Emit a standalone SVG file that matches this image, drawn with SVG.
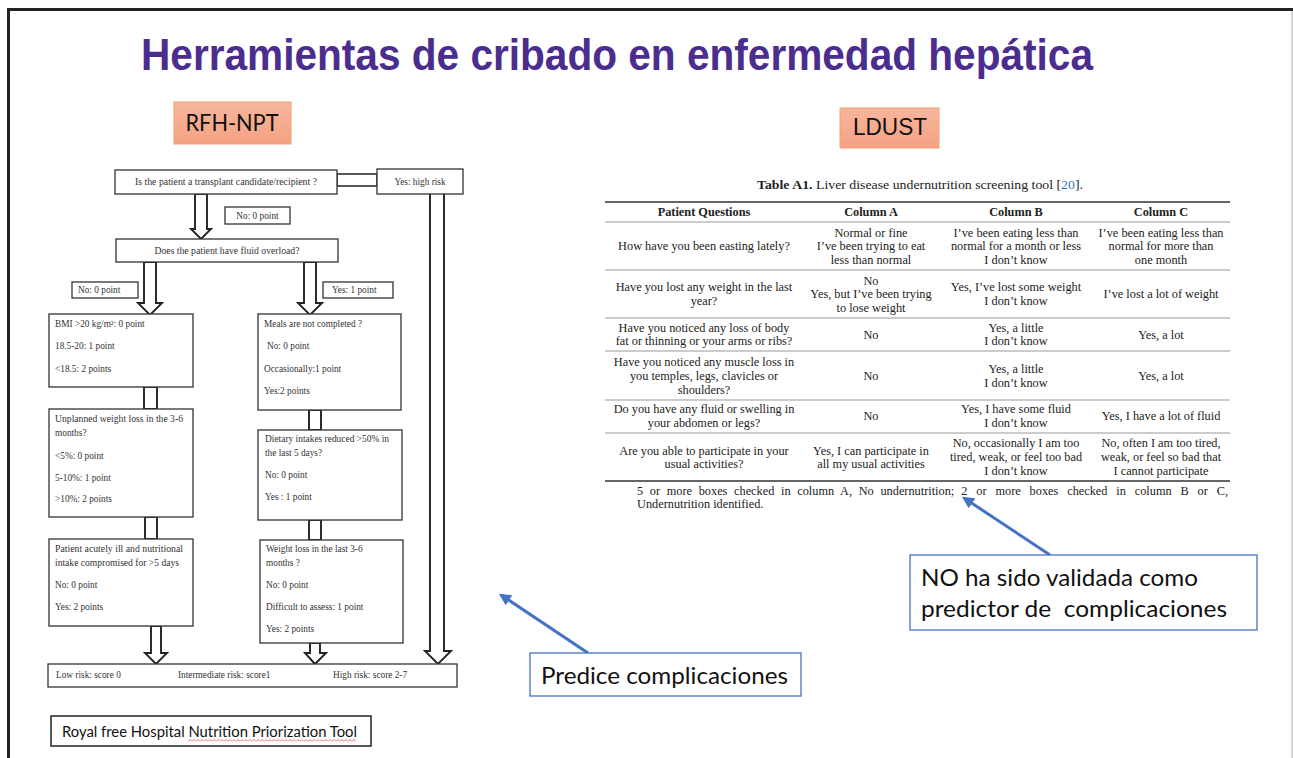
<svg xmlns="http://www.w3.org/2000/svg" width="1293" height="758" viewBox="0 0 1293 758">
<defs>
<linearGradient id="sal" x1="0" y1="0" x2="0" y2="1">
<stop offset="0" stop-color="#F7B69C"/>
<stop offset="1" stop-color="#F4A283"/>
</linearGradient>
<pattern id="wavy" x="188" y="739" width="4" height="3" patternUnits="userSpaceOnUse">
<path d="M0,2.5 L2,0.5 L4,2.5" fill="none" stroke="#E03030" stroke-width="0.7"/>
</pattern>
<marker id="bh" viewBox="0 0 10 10" refX="8" refY="5" markerWidth="4" markerHeight="4" orient="auto" markerUnits="strokeWidth">
<path d="M0,0 L10,5 L0,10 z" fill="#4472C4"/>
</marker>
<style>
.fc{font-family:"Liberation Serif",serif;font-size:9.3px;fill:#333}
.box{fill:#fff;stroke:#333;stroke-width:1.3}
.arr{fill:#fff;stroke:#222;stroke-width:1.9;stroke-linejoin:miter}
.tb{font-family:"Liberation Serif",serif;font-size:12.3px;fill:#222;text-anchor:middle}
.tl{font-family:"Liberation Serif",serif;font-size:12.3px;fill:#222}
.th{font-weight:bold}
.rt{stroke:#333;stroke-width:1.5}
.rl{stroke:#999;stroke-width:1}
.call{fill:#fff;stroke:#4472C4;stroke-width:1.3}
.ct{font-family:Lato,"Open Sans",sans-serif;fill:#111}
.blue{stroke:#4472C4;stroke-width:3;fill:none;marker-end:url(#bh)}
.tag{fill:url(#sal);stroke:#F2A070;stroke-width:1}
</style>
</defs>
<rect x="0" y="0" width="1293" height="758" fill="#fff"/>
<!-- frame -->
<path d="M8.5,758 V9.5 H1293" fill="none" stroke="#222" stroke-width="3"/>
<line x1="1292" y1="11" x2="1292" y2="758" stroke="#bbb" stroke-width="1.2"/>

<!-- title -->
<text x="141" y="70" font-family="Liberation Sans,Arial,sans-serif" font-weight="bold" font-size="45" fill="#4B2D8E" textLength="952" lengthAdjust="spacingAndGlyphs">Herramientas de cribado en enfermedad hepática</text>

<!-- tags -->
<g id="tag-rfh">
<rect class="tag" x="174" y="102" width="117" height="42"/>
<text x="232" y="131" font-family="Lato,'Open Sans',sans-serif" font-size="23" fill="#111" text-anchor="middle" textLength="93" lengthAdjust="spacingAndGlyphs">RFH-NPT</text>
</g>
<g id="tag-ldust">
<rect class="tag" x="840" y="108" width="99" height="40"/>
<text x="890" y="135" font-family="Liberation Sans,Arial,sans-serif" font-size="24" fill="#111" text-anchor="middle" textLength="74" lengthAdjust="spacingAndGlyphs">LDUST</text>
</g>

<!-- flowchart connectors -->
<g id="connectors">
<rect x="337" y="174" width="40" height="12" fill="#fff" stroke="#222" stroke-width="1.5"/>
<path class="arr" d="M195,194 V229 H191 L201,239 L211,229 H207 V194 Z"/>
<path class="arr" d="M144,262 V303 H138 L150,315 L162,303 H156 V262 Z"/>
<path class="arr" d="M304,262 V303 H298 L310,315 L322,303 H316 V262 Z"/>
<rect class="arr" x="144" y="387" width="13" height="22"/>
<rect class="arr" x="309" y="410" width="12" height="20"/>
<rect class="arr" x="145" y="517" width="12" height="22"/>
<rect class="arr" x="309" y="520" width="12" height="20"/>
<path class="arr" d="M151,626 V653 H145 L156,664 L167,653 H161 V626 Z"/>
<path class="arr" d="M310,643 V653 H305 L315,664 L326,653 H320 V643 Z"/>
<path class="arr" d="M430,194 V651 H425 L438,664 L451,651 H444 V194"/>
</g>

<!-- flowchart nodes -->
<g id="n-transplant">
<rect class="box" x="115" y="170" width="222" height="24"/>
<text class="fc" x="226" y="185" text-anchor="middle" textLength="182" lengthAdjust="spacingAndGlyphs">Is the patient a transplant candidate/recipient ?</text>
</g>
<g id="n-yeshigh">
<rect class="box" x="377" y="169" width="86" height="25"/>
<text class="fc" x="420" y="185" text-anchor="middle">Yes: high risk</text>
</g>
<g id="n-no0a">
<rect class="box" x="225" y="207" width="65" height="17"/>
<text class="fc" x="257.5" y="218.5" text-anchor="middle">No: 0 point</text>
</g>
<g id="n-fluid">
<rect class="box" x="116" y="239" width="222" height="23"/>
<text class="fc" x="227" y="254" text-anchor="middle" textLength="145" lengthAdjust="spacingAndGlyphs">Does the patient have fluid overload?</text>
</g>
<g id="n-no0b">
<rect class="box" x="72" y="282" width="66" height="16"/>
<text class="fc" x="78" y="293">No: 0 point</text>
</g>
<g id="n-yes1">
<rect class="box" x="323" y="282" width="70" height="16"/>
<text class="fc" x="332" y="293">Yes: 1 point</text>
</g>
<g id="n-bmi">
<rect class="box" x="49" y="314" width="144" height="73"/>
<text class="fc" x="55" y="327">BMI &gt;20 kg/m²: 0 point</text>
<text class="fc" x="55" y="349">18.5-20: 1 point</text>
<text class="fc" x="55" y="372">&lt;18.5: 2 points</text>
</g>
<g id="n-meals">
<rect class="box" x="258" y="314" width="143" height="96"/>
<text class="fc" x="264" y="327">Meals are not completed ?</text>
<text class="fc" x="267" y="349">No: 0 point</text>
<text class="fc" x="264" y="372">Occasionally:1 point</text>
<text class="fc" x="264" y="394">Yes:2 points</text>
</g>
<g id="n-unplanned">
<rect class="box" x="49" y="409" width="144" height="108"/>
<text class="fc" x="55" y="422" textLength="128" lengthAdjust="spacingAndGlyphs">Unplanned weight loss in the 3-6</text>
<text class="fc" x="55" y="436">months?</text>
<text class="fc" x="55" y="459">&lt;5%: 0 point</text>
<text class="fc" x="55" y="481">5-10%: 1 point</text>
<text class="fc" x="55" y="502">&gt;10%: 2 points</text>
</g>
<g id="n-dietary">
<rect class="box" x="258" y="430" width="144" height="90"/>
<text class="fc" x="265" y="442" textLength="124" lengthAdjust="spacingAndGlyphs">Dietary intakes reduced &gt;50% in</text>
<text class="fc" x="265" y="456">the last 5 days?</text>
<text class="fc" x="265" y="478">No: 0 point</text>
<text class="fc" x="265" y="500">Yes : 1 point</text>
</g>
<g id="n-acute">
<rect class="box" x="49" y="539" width="144" height="87"/>
<text class="fc" x="55" y="552" textLength="128" lengthAdjust="spacingAndGlyphs">Patient acutely ill and nutritional</text>
<text class="fc" x="55" y="566" textLength="124" lengthAdjust="spacingAndGlyphs">intake compromised for &gt;5 days</text>
<text class="fc" x="55" y="588">No: 0 point</text>
<text class="fc" x="55" y="610">Yes: 2 points</text>
</g>
<g id="n-weight">
<rect class="box" x="260" y="540" width="143" height="103"/>
<text class="fc" x="266" y="552">Weight loss in the last 3-6</text>
<text class="fc" x="266" y="566">months ?</text>
<text class="fc" x="266" y="588">No: 0 point</text>
<text class="fc" x="266" y="610">Difficult to assess: 1 point</text>
<text class="fc" x="266" y="632">Yes: 2 points</text>
</g>
<g id="n-result">
<rect class="box" x="48" y="664" width="409" height="23"/>
<text class="fc" x="56" y="677.5">Low risk: score 0</text>
<text class="fc" x="178" y="677.5">Intermediate risk: score1</text>
<text class="fc" x="333" y="677.5">High risk: score 2-7</text>
</g>
<g id="n-royal">
<rect x="51" y="716" width="320" height="30" fill="#fff" stroke="#222" stroke-width="1.5"/>
<text class="ct" x="62" y="737" font-size="15.5" textLength="295" lengthAdjust="spacingAndGlyphs">Royal free Hospital Nutrition Priorization Tool</text>
<rect x="188" y="739" width="168" height="3" fill="url(#wavy)"/>
</g>

<!-- table -->
<g id="table-ldust">
<text class="tb" x="920" y="189" font-size="13.5" textLength="326" lengthAdjust="spacingAndGlyphs"><tspan class="th">Table A1.</tspan> Liver disease undernutrition screening tool [<tspan fill="#2E75C6">20</tspan>].</text>
<line class="rt" x1="605" y1="202" x2="1230" y2="202"/>
<line class="rl" x1="605" y1="222" x2="1230" y2="222"/>
<line class="rl" x1="605" y1="270" x2="1230" y2="270"/>
<line class="rl" x1="605" y1="318" x2="1230" y2="318"/>
<line class="rl" x1="605" y1="351" x2="1230" y2="351"/>
<line class="rl" x1="605" y1="400" x2="1230" y2="400"/>
<line class="rl" x1="605" y1="433" x2="1230" y2="433"/>
<line class="rt" x1="605" y1="481" x2="1230" y2="481"/>

<text class="tb th" x="704" y="216">Patient Questions</text>
<text class="tb th" x="871" y="216">Column A</text>
<text class="tb th" x="1016" y="216">Column B</text>
<text class="tb th" x="1161" y="216">Column C</text>

<text class="tb" x="704" y="250">How have you been easting lately?</text>
<text class="tb" x="871" y="237">Normal or fine</text>
<text class="tb" x="871" y="250">I’ve been trying to eat</text>
<text class="tb" x="871" y="264">less than normal</text>
<text class="tb" x="1016" y="237">I’ve been eating less than</text>
<text class="tb" x="1016" y="250">normal for a month or less</text>
<text class="tb" x="1016" y="264">I don’t know</text>
<text class="tb" x="1161" y="237">I’ve been eating less than</text>
<text class="tb" x="1161" y="250">normal for more than</text>
<text class="tb" x="1161" y="264">one month</text>

<text class="tb" x="704" y="291">Have you lost any weight in the last</text>
<text class="tb" x="704" y="305">year?</text>
<text class="tb" x="871" y="285">No</text>
<text class="tb" x="871" y="298">Yes, but I’ve been trying</text>
<text class="tb" x="871" y="312">to lose weight</text>
<text class="tb" x="1016" y="291">Yes, I’ve lost some weight</text>
<text class="tb" x="1016" y="305">I don’t know</text>
<text class="tb" x="1161" y="298">I’ve lost a lot of weight</text>

<text class="tb" x="704" y="332">Have you noticed any loss of body</text>
<text class="tb" x="704" y="345">fat or thinning or your arms or ribs?</text>
<text class="tb" x="871" y="339">No</text>
<text class="tb" x="1016" y="332">Yes, a little</text>
<text class="tb" x="1016" y="345">I don’t know</text>
<text class="tb" x="1161" y="339">Yes, a lot</text>

<text class="tb" x="704" y="366">Have you noticed any muscle loss in</text>
<text class="tb" x="704" y="380">you temples, legs, clavicles or</text>
<text class="tb" x="704" y="394">shoulders?</text>
<text class="tb" x="871" y="380">No</text>
<text class="tb" x="1016" y="373">Yes, a little</text>
<text class="tb" x="1016" y="387">I don’t know</text>
<text class="tb" x="1161" y="380">Yes, a lot</text>

<text class="tb" x="704" y="413">Do you have any fluid or swelling in</text>
<text class="tb" x="704" y="427">your abdomen or legs?</text>
<text class="tb" x="871" y="420">No</text>
<text class="tb" x="1016" y="413">Yes, I have some fluid</text>
<text class="tb" x="1016" y="427">I don’t know</text>
<text class="tb" x="1161" y="420">Yes, I have a lot of fluid</text>

<text class="tb" x="704" y="455">Are you able to participate in your</text>
<text class="tb" x="704" y="468">usual activities?</text>
<text class="tb" x="871" y="455">Yes, I can participate in</text>
<text class="tb" x="871" y="468">all my usual activities</text>
<text class="tb" x="1016" y="447">No, occasionally I am too</text>
<text class="tb" x="1016" y="461">tired, weak, or feel too bad</text>
<text class="tb" x="1016" y="475">I don’t know</text>
<text class="tb" x="1161" y="447">No, often I am too tired,</text>
<text class="tb" x="1161" y="461">weak, or feel so bad that</text>
<text class="tb" x="1161" y="475">I cannot participate</text>

<text class="tl" x="637" y="495" word-spacing="3.6">5 or more boxes checked in column A, No undernutrition;</text>
<text class="tl" x="1228" y="495" word-spacing="5.8" text-anchor="end">2 or more boxes checked in column B or C,</text>
<text class="tl" x="637" y="508">Undernutrition identified.</text>
</g>

<!-- callouts -->
<g id="callout-arrows">
<line class="blue" x1="1050" y1="555" x2="964" y2="498"/>
<line class="blue" x1="588" y1="653" x2="501" y2="595"/>
</g>
<g id="callout-no">
<rect class="call" x="910" y="555" width="347" height="75"/>
<text class="ct" x="921" y="586" font-size="24" textLength="277" lengthAdjust="spacingAndGlyphs">NO ha sido validada como</text>
<text class="ct" x="921" y="617" font-size="24" textLength="306" lengthAdjust="spacingAndGlyphs" xml:space="preserve">predictor de  complicaciones</text>
</g>
<g id="callout-predice">
<rect class="call" x="530" y="653" width="271" height="43"/>
<text class="ct" x="541" y="684" font-size="24" textLength="247" lengthAdjust="spacingAndGlyphs">Predice complicaciones</text>
</g>
</svg>
